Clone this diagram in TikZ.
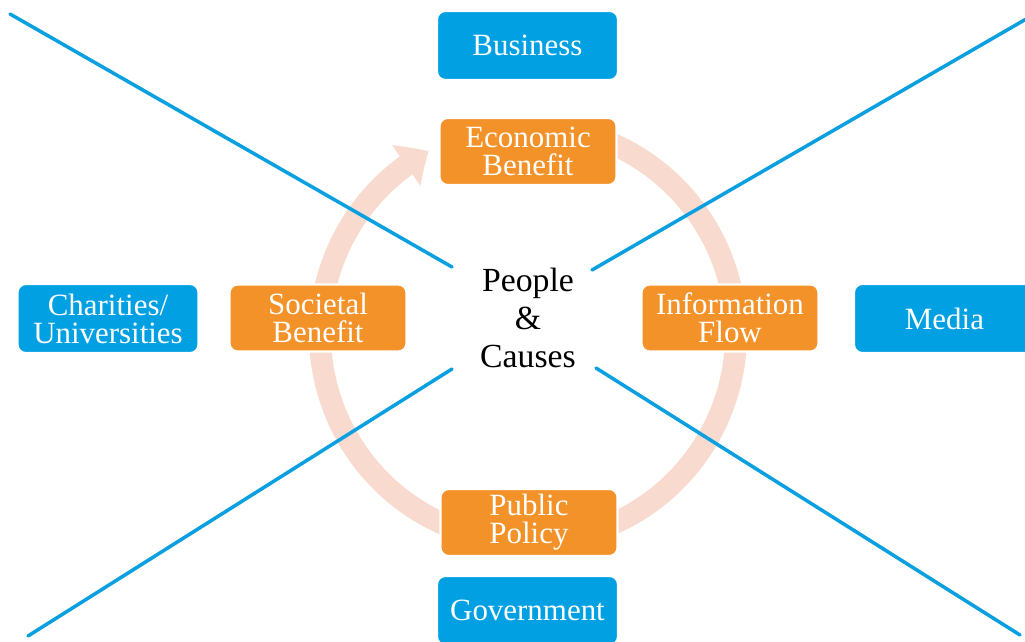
\documentclass[tikz,border=0pt]{standalone}
\usepackage{fontspec}
\setmainfont{Liberation Serif}
\usetikzlibrary{arrows.meta,bending}
\definecolor{boxblue}{HTML}{00A0E3}
\definecolor{lineblue}{HTML}{0AA0E0}
\definecolor{boxorange}{HTML}{F39229}
\definecolor{ringpeach}{HTML}{F9DACE}

\begin{document}
\begin{tikzpicture}[x=0.025cm,y=-0.025cm,
  bluebox/.style={rectangle,rounded corners=6pt,fill=boxblue,draw=white,line width=1.5pt,text=white,
    minimum width=128.7pt,minimum height=49.1pt,inner sep=0pt,align=center,font=\fontsize{22}{20}\selectfont},
  orangebox/.style={bluebox,fill=boxorange,minimum width=125.9pt,minimum height=47.7pt},
  spoke/.style={lineblue,line width=2.5pt,line cap=round}]
\clip (0,0) rectangle (1025,642);
% ring behind everything
\draw[ringpeach,line width=15.6pt,-{Triangle[length=19pt,width=34pt,bend]}]
  (528,334) ++(-67:208) arc[start angle=-67,end angle=241.5,radius=208];
% spokes
\coordinate (tl) at (10,14);
\coordinate (tlin) at (452,267);
\coordinate (tr) at (1040,11);
\coordinate (trin) at (592,270);
\coordinate (bl) at (28,636);
\coordinate (blin) at (452,369);
\coordinate (br) at (1020,635);
\coordinate (brin) at (596,368);
\draw[spoke] (tl) -- (tlin);
\draw[spoke] (tr) -- (trin);
\draw[spoke] (bl) -- (blin);
\draw[spoke] (br) -- (brin);
% centre
\node[align=center,font=\fontsize{24}{26.7}\selectfont] (people) at (528,318) {People\\\&\\Causes};
% outer boxes
\node[bluebox] (business) at (527.5,45.5) {Business};
\node[bluebox] (charities) at (108,318.5) {Charities/\\Universities};
\node[bluebox] (media) at (944.5,318.5) {Media};
\node[bluebox] (government) at (527.5,610.5) {Government};
% ring boxes
\node[orangebox] (economic) at (528,151.5) {Economic\\Benefit};
\node[orangebox] (societal) at (318,318) {Societal\\Benefit};
\node[orangebox] (info) at (730,318) {Information\\Flow};
\node[orangebox] (policy) at (529,522.5) {Public\\Policy};
\end{tikzpicture}
\end{document}
